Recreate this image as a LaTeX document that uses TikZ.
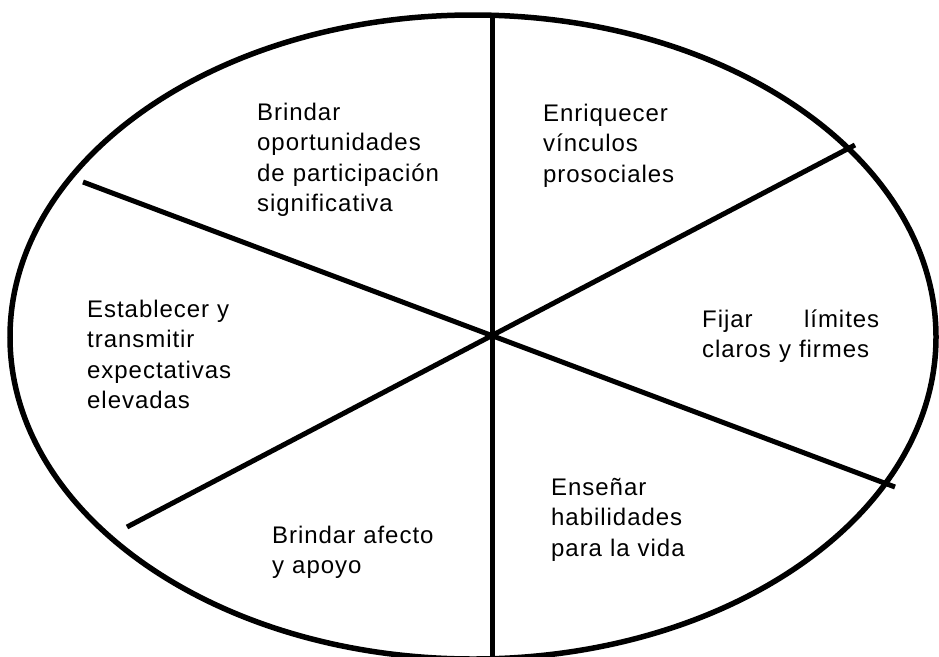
\documentclass[tikz,border=0pt]{standalone}
\usepackage{fontspec}
\setmainfont{Liberation Sans}[LetterSpace=4]
\usetikzlibrary{positioning}
\tikzset{
  rim/.style={
    draw, line width=5.5pt
  },
  spoke/.style={
    draw, line width=5pt
  },
  lbl/.style={
    anchor=base west, inner sep=0pt, align=left, text width=#1,
    font=\fontsize{24}{30.5}\selectfont
  }
}

\begin{document}
\begin{tikzpicture}[x=1pt,y=-1pt]
  \useasboundingbox (0,0) rectangle (939,656);
  \clip (0,0) rectangle (939,656);
  \begin{scope}
   \coordinate (c) at (492,335);
   \coordinate (top) at (492,17);
   \coordinate (bot) at (492,665);
   \coordinate (ur) at (855,145);
   \coordinate (lr) at (895,487);
   \coordinate (ul) at (83,182);
   \coordinate (ll) at (127,527);

   \draw[rim] (473,337) ellipse [x radius=463pt, y radius=322pt];
   \draw[spoke] (top) -- (bot);
   \draw[spoke] (ul) -- (lr);
   \draw[spoke] (ur) -- (ll);
 \end{scope}
  \begin{scope}
   \node[lbl=230pt] (brindarop) at (257,120) {Brindar\\oportunidades\\de participación\\significativa};
   \node[lbl=180pt] (enriq) at (543,121) {Enriquecer\\vínculos\\prosociales};
   \node[lbl=177pt] (fijar) at (702,327) {Fijar\hfill límites\\claros y firmes};
   \node[lbl=190pt] (establ) at (87,317) {Establecer y\\transmitir\\expectativas\\elevadas};
   \node[lbl=200pt] (afecto) at (272,543) {Brindar afecto\\y apoyo};
   \node[lbl=180pt] (ensen) at (551,495) {Enseñar\\habilidades\\para la vida};
 \end{scope}
\end{tikzpicture}
\end{document}
